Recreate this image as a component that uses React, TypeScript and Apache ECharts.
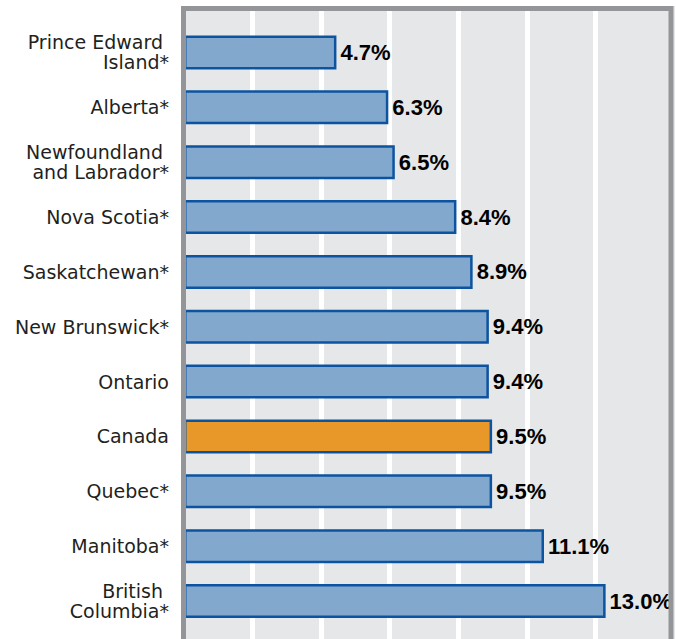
import React, { useEffect, useRef } from "react";
import * as echarts from "echarts";

const categories: string[] = [
  "Prince Edward \nIsland*",
  "Alberta*",
  "Newfoundland \nand Labrador*",
  "Nova Scotia*",
  "Saskatchewan*",
  "New Brunswick*",
  "Ontario",
  "Canada",
  "Quebec*",
  "Manitoba*",
  "British \nColumbia*",
];
const values: number[] = [4.7, 6.3, 6.5, 8.4, 8.9, 9.4, 9.4, 9.5, 9.5, 11.1, 13.0];
const highlightCategory = "Canada";
const gridMin = 0;
const gridMax = 14;
const gridInterval = 2;
const barAxisMax = 14.8;

const LABEL_FONT = "'DejaVu Sans', Verdana, sans-serif";
const VALUE_FONT = "'Liberation Sans', Arial, sans-serif";

export default function App() {
  const ref = useRef<HTMLDivElement>(null);
  useEffect(() => {
    if (!ref.current) return;
    const chart = echarts.init(ref.current, undefined, { renderer: "svg" });
    const data = values.map((v, i) => ({
      value: v,
      itemStyle:
        categories[i] === highlightCategory
          ? { color: "#e89828", borderColor: "#0c54a0", borderWidth: 2.5 }
          : { color: "#82a8ce", borderColor: "#0c54a0", borderWidth: 2.5 },
    }));
    chart.setOption({
      animation: false,
      backgroundColor: "#ffffff",
      graphic: [
        {
          type: "rect",
          z: -10,
          silent: true,
          shape: { x: 181, y: 6, width: 494, height: 700 },
          style: { fill: "#e6e7e9" },
        },
        {
          type: "rect",
          z: 100,
          silent: true,
          shape: { x: 183.5, y: 8.5, width: 487.5, height: 700 },
          style: { fill: "none", stroke: "#939598", lineWidth: 5 },
        },
      ],
      grid: [
        { left: 184, top: 11, width: 480, height: 660, show: false },
        { left: 184, top: 25, width: 480, height: 603.5, show: false },
      ],
      xAxis: [
        {
          gridIndex: 0,
          type: "value",
          min: gridMin,
          max: gridMax,
          interval: gridInterval,
          axisLine: { show: false },
          axisTick: { show: false },
          axisLabel: { show: false },
          splitLine: {
            show: true,
            showMinLine: false,
            showMaxLine: false,
            lineStyle: { color: "#ffffff", width: 5 },
          },
        },
        {
          gridIndex: 1,
          type: "value",
          min: 0,
          max: barAxisMax,
          show: false,
          splitLine: { show: false },
        },
      ],
      yAxis: [
        {
          gridIndex: 0,
          type: "value",
          show: false,
          splitLine: { show: false },
        },
        {
          gridIndex: 1,
          type: "category",
          inverse: true,
          data: categories,
          axisLine: { show: false },
          axisTick: { show: false },
          splitLine: { show: false },
          axisLabel: {
            margin: 15,
            color: "#231f20",
            fontFamily: LABEL_FONT,
            fontSize: 19,
            lineHeight: 20,
            align: "right",
            padding: [0, 0, 5, 0],
          },
        },
      ],
      series: [
        {
          type: "bar",
          xAxisIndex: 1,
          yAxisIndex: 1,
          data,
          barWidth: 34,
          label: {
            show: true,
            position: "right",
            distance: 4,
            color: "#000000",
            fontFamily: VALUE_FONT,
            fontSize: 22,
            fontWeight: "bold",
            formatter: (p: any) => Number(p.value).toFixed(1) + "%",
          },
        },
      ],
    });
    return () => chart.dispose();
  }, []);
  return (
    <div
      ref={ref}
      style={{ position: "absolute", left: 0, top: 0, width: 676, height: 639 }}
    />
  );
}
